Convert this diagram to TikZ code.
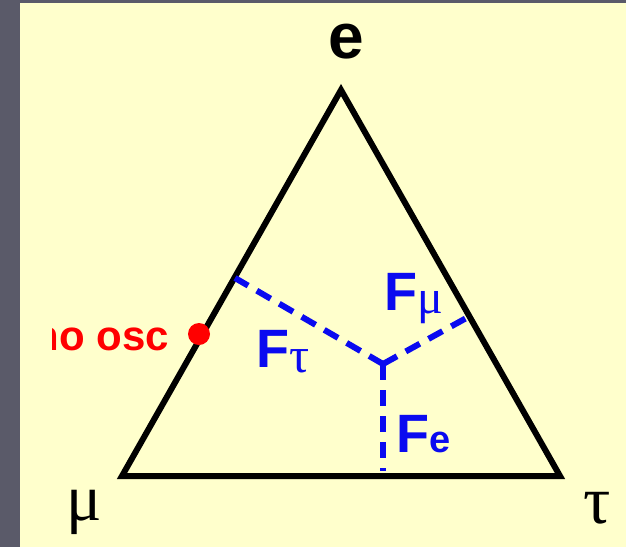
\documentclass[tikz,border=0pt]{standalone}
\usepackage{fontspec}
\setmainfont{Liberation Sans}
\newfontfamily\serifgr{Liberation Serif}
\definecolor{bgyellow}{HTML}{FFFFCC}
\definecolor{stripgray}{HTML}{5A5A69}
\definecolor{dashblue}{HTML}{0A0AF0}
\definecolor{dotred}{HTML}{FF0000}
\begin{document}
\begin{tikzpicture}[x=1pt,y=-1pt,
  tri/.style={line width=6pt,black,line join=miter},
  fline/.style={line width=6pt,dashblue,dash pattern=on 16pt off 10pt},
  lbl/.style={inner sep=0pt,anchor=base},
  flbl/.style={inner sep=0pt,anchor=base west,text=dashblue,font=\fontsize{54}{54}\selectfont\bfseries}]
\useasboundingbox (0,0) rectangle (626,547);
\fill[stripgray] (0,0) rectangle (626,547);
\fill[bgyellow] (20,3) rectangle (626,547);
% vertices
\coordinate (E) at (341,90);
\coordinate (M) at (122,476);
\coordinate (T) at (560,476);
\coordinate (C) at (383,364);
\coordinate (Lt) at (235,278);
\coordinate (Rm) at (470,316);
\coordinate (Be) at (383,471);
\draw[tri] (E) -- (M) -- (T) -- cycle;
\draw[fline] (C) -- (Lt);
\draw[fline] (C) -- (Rm);
\draw[fline] (C) -- (Be);
% vertex labels
\node[lbl,font=\fontsize{64}{64}\selectfont\bfseries] (le) at (346,58) {e};
\node[lbl,font=\fontsize{66}{66}\serifgr] (lmu) at (84,520) {μ};
\node[lbl,font=\fontsize{68}{68}\serifgr] (ltau) at (597,523) {τ};
% F labels
\node[flbl] (ftau) at (256,367) {F\raisebox{-5pt}{\fontsize{50}{50}\serifgr\mdseries τ}};
\node[flbl] (fmu) at (384,310) {F\raisebox{-3pt}{\fontsize{48}{48}\serifgr\mdseries μ}};
\node[flbl] (fe) at (396,452) {F\fontsize{38}{38}\selectfont e};
% no osc
\fill[dotred] (199,334) circle (11);
\begin{scope}
\clip (52,300) rectangle (190,370);
\node[inner sep=0pt,anchor=base east,text=dotred,font=\fontsize{42}{42}\selectfont\bfseries] (nosc) at (169,350) {no osc};
\end{scope}
\end{tikzpicture}
\end{document}
